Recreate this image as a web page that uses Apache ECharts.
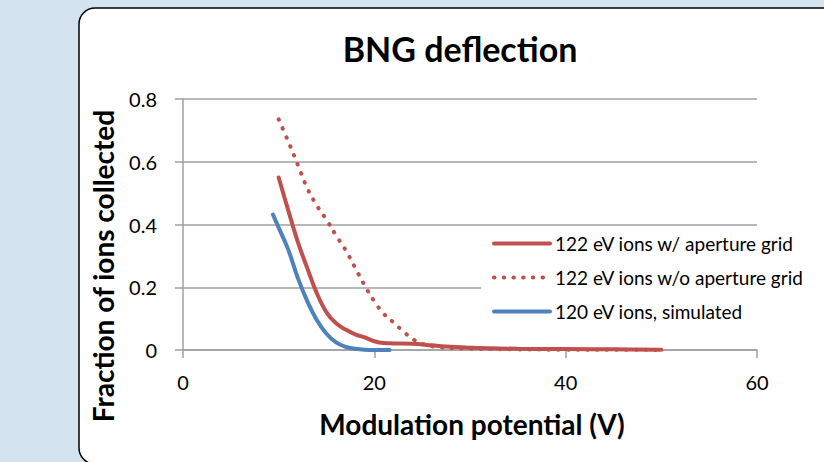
<!DOCTYPE html>
<html>
<head>
<meta charset="utf-8">
<script src="https://cdn.jsdelivr.net/npm/echarts/dist/echarts.min.js"></script>
<style>
html,body{margin:0;padding:0;background:#d4e3f0;}
#c{width:824px;height:462px;}
</style>
</head>
<body>
<div id="c"></div>
<script>
// ---- data ----
const seriesNames = ['122 eV ions w/ aperture grid', '122 eV ions w/o aperture grid', '120 eV ions, simulated'];
const redSolidX = [10, 11, 12, 13, 14, 15, 16, 17, 18, 19, 20, 21, 22, 24, 26, 28, 30, 35, 40, 45, 50];
const redSolidY = [0.55, 0.445, 0.345, 0.26, 0.18, 0.12, 0.085, 0.065, 0.05, 0.04, 0.028, 0.022, 0.021, 0.02, 0.015, 0.01, 0.007, 0.004, 0.003, 0.002, 0.001];
const redDotX = [10, 11, 12, 13, 14, 15, 16, 17, 18, 19, 20, 21, 22, 23, 24, 25, 26, 28, 30, 35, 40, 45, 50];
const redDotY = [0.735, 0.665, 0.59, 0.515, 0.46, 0.415, 0.365, 0.318, 0.262, 0.205, 0.155, 0.115, 0.088, 0.06, 0.035, 0.02, 0.012, 0.006, 0.004, 0.002, 0.001, 0.001, 0];
const blueX = [9.4, 10, 11, 12, 13, 14, 15, 16, 17, 18, 19, 20, 21.6];
const blueY = [0.432, 0.39, 0.32, 0.23, 0.155, 0.095, 0.052, 0.024, 0.01, 0.004, 0.001, 0, 0];
const xTickLabels = ['0', '20', '40', '60'];
const yTickLabels = ['0', '0.2', '0.4', '0.6', '0.8'];
const titleText = 'BNG deflection';
const xTitle = 'Modulation potential (V)';
const yTitle = 'Fraction of ions collected';

function pairs(xs, ys) { return xs.map((x, i) => [x, ys[i]]); }

const FONT = 'Lato, "Open Sans", sans-serif';
const RED = '#c0504d', BLUE = '#4f81bd', GRID = '#a0a0a0';

const chart = echarts.init(document.getElementById('c'), null, {renderer: 'svg'});
chart.setOption({
  backgroundColor: '#d4e3f0',
  animation: false,
  graphic: [
    {type: 'rect', z: -100, shape: {x: 79, y: 8, width: 820, height: 456, r: 16},
     style: {fill: '#ffffff', stroke: '#000000', lineWidth: 1.5}},
    {type: 'text', x: 460, y: 48, z: 10,
     style: {text: titleText, font: 'bold 34px ' + FONT, fill: '#000', textAlign: 'center', textVerticalAlign: 'middle'}},
    {type: 'text', x: 472, y: 424, z: 10,
     style: {text: xTitle, font: 'bold 28px ' + FONT, fill: '#000', textAlign: 'center', textVerticalAlign: 'middle'}},
    {type: 'text', x: 103, y: 266, rotation: Math.PI / 2, z: 10,
     style: {text: yTitle, font: 'bold 28px ' + FONT, fill: '#000', textAlign: 'center', textVerticalAlign: 'middle'}}
  ],
  grid: {left: 183, right: 67, top: 99, bottom: 112, containLabel: false, outerBoundsMode: 'none'},
  xAxis: {
    type: 'value', min: 0, max: 60, interval: 20,
    axisLine: {show: true, lineStyle: {color: GRID, width: 1.5}},
    axisTick: {show: true, length: 8, inside: false, lineStyle: {color: GRID, width: 1.5}},
    splitLine: {show: false},
    axisLabel: {margin: 22, color: '#000', fontFamily: FONT, fontSize: 20,
      formatter: v => xTickLabels[Math.round(v / 20)]}
  },
  yAxis: {
    type: 'value', min: 0, max: 0.8, interval: 0.2,
    axisLine: {show: true, lineStyle: {color: GRID, width: 1.5}},
    axisTick: {show: true, length: 8, inside: false, lineStyle: {color: GRID, width: 1.5}},
    splitLine: {show: true, lineStyle: {color: GRID, width: 1.5}},
    axisLabel: {margin: 26, color: '#000', fontFamily: FONT, fontSize: 20,
      formatter: v => yTickLabels[Math.round(v / 0.2)]}
  },
  legend: {
    orient: 'vertical', left: 481, top: 226,
    padding: [8, 10, 10, 11],
    backgroundColor: '#ffffff',
    itemWidth: 56, itemHeight: 14, itemGap: 15,
    itemStyle: {opacity: 0, color: 'rgba(0,0,0,0)', borderColor: 'rgba(0,0,0,0)', borderWidth: 0},
    lineStyle: {width: 4, cap: 'round'},
    textStyle: {color: '#000', fontFamily: FONT, fontSize: 19},
    data: seriesNames
  },
  series: [
    {name: seriesNames[0], type: 'line', data: pairs(redSolidX, redSolidY), symbol: 'none',
     smooth: 0.4, color: RED,
     lineStyle: {color: RED, width: 4, cap: 'round'}},
    {name: seriesNames[1], type: 'line', data: pairs(redDotX, redDotY), symbol: 'none',
     smooth: 0.4, color: RED,
     lineStyle: {color: RED, width: 4, type: [0.5, 9.2], cap: 'round'}},
    {name: seriesNames[2], type: 'line', data: pairs(blueX, blueY), symbol: 'none',
     smooth: 0.4, color: BLUE,
     lineStyle: {color: BLUE, width: 4, cap: 'round'}}
  ]
});
</script>
</body>
</html>
